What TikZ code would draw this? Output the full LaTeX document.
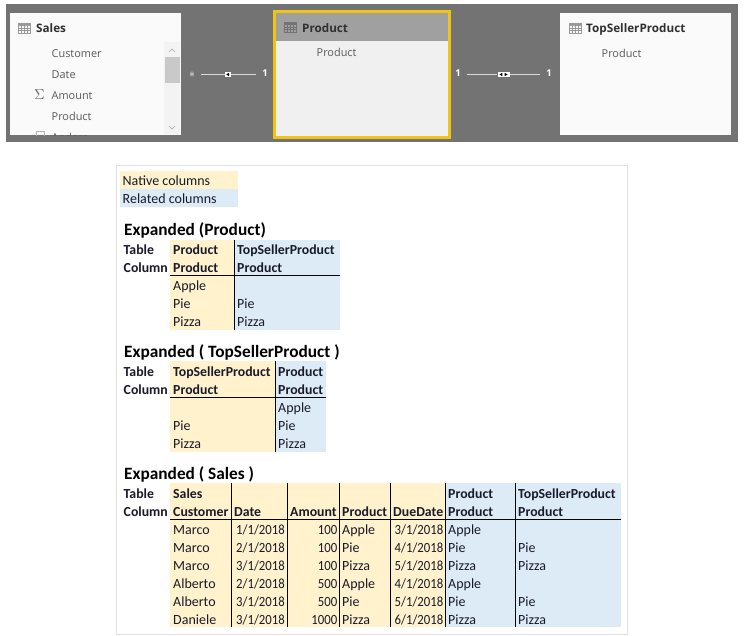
\documentclass[tikz,border=0pt]{standalone}
\usepackage{fontspec}
\setmainfont{Carlito}
\newfontfamily\uifont{Open Sans}
\newfontfamily\numfont[FakeStretch=0.91]{Carlito}
\definecolor{nativec}{HTML}{FFF2CC}
\definecolor{relc}{HTML}{DDEBF7}
\definecolor{band}{HTML}{737373}
\definecolor{selyellow}{HTML}{F0C414}
\definecolor{cardc}{HTML}{FAFAFA}
\definecolor{selcard}{HTML}{F0F0F0}
\definecolor{hdr}{HTML}{A0A0A0}
\definecolor{framec}{HTML}{E2E2E2}
\definecolor{fieldc}{HTML}{5A5A5A}
\definecolor{titlec}{HTML}{303030}
\definecolor{ink}{HTML}{1A1A2A}
\tikzset{
 cell/.style={inner sep=0pt,anchor=base west,font=\fontsize{14}{14}\selectfont,text=ink},
 numcell/.style={inner sep=0pt,anchor=base east,font=\numfont\fontsize{14}{14}\selectfont,text=ink},
 hcell/.style={cell,font=\fontsize{13.8}{14}\selectfont\bfseries},
 tabtitle/.style={inner sep=0pt,anchor=base west,font=\fontsize{17.3}{17.3}\selectfont\bfseries,text=black},
 field/.style={inner sep=0pt,anchor=base west,font=\uifont\fontsize{10.9}{12}\selectfont,text=fieldc},
 cardtitle/.style={inner sep=0pt,anchor=base west,font=\uifont\fontsize{11.7}{12}\selectfont\bfseries,text=titlec},
 card/.style={fill=cardc,draw=none},
 rule/.style={draw=black,line width=0.9pt},
 relline/.style={draw=white!85!black,line width=0.8pt},
 cardnum/.style={inner sep=0pt,font=\uifont\fontsize{9.5}{10}\selectfont\bfseries,text=white},
}
% table icon at top-left (x,y)
\newcommand{\tblicon}[3]{%
 \begin{scope}[shift={(#1,#2)}]
  \fill[#3] (0,0) rectangle (12,3);
  \draw[#3,line width=0.5pt] (0,0) rectangle (12,10);
  \foreach \gx in {3,6,9} \draw[#3,line width=0.35pt] (\gx,3) -- (\gx,10);
  \foreach \gy in {5.3,7.6} \draw[#3,line width=0.35pt] (0,\gy) -- (12,\gy);
 \end{scope}}
\begin{document}
\begin{tikzpicture}[x=1pt,y=-1pt]
\useasboundingbox (0,0) rectangle (744,635);
\fill[white] (0,0) rectangle (744,635);
% band
\fill[band] (6,4) rectangle (738,142);
% Sales card
\path[card] (10,13) rectangle (181,135);
\tblicon{18}{23}{gray!80}
\node[cardtitle] (salesT) at (36,32.5) {Sales};
\node[field] (f1) at (51.5,57) {Customer};
\node[field] (f2) at (51.5,78) {Date};
\node[field] (f3) at (51.5,99) {Amount};
\node[field] (f4) at (51.5,120) {Product};
\node[inner sep=0pt,anchor=base,font=\fontsize{14}{14}\selectfont,text=fieldc] (sig) at (39.5,99.5) {$\Sigma$};
\begin{scope}
 \clip (10,13) rectangle (181,135);
 \node[field] (f5) at (51.5,141) {Andere};
 \draw[gray!60,line width=0.5pt] (36,131) rectangle (44,142);
\end{scope}
% scrollbar
\fill[cardc!97!black] (164,42) rectangle (180,134);
\fill[gray!42] (164.5,57) rectangle (180,83);
\draw[gray!70,line width=0.5pt] (169,52) -- (172,49) -- (175,52);
\draw[gray!70,line width=0.5pt] (169,126) -- (172,129) -- (175,126);
% Product card
\path[fill=selcard,draw=selyellow,line width=3pt] (274.5,11.5) rectangle (449,137.5);
\fill[hdr] (276,13) rectangle (447.5,40.5);
\tblicon{284}{22}{gray!90!black}
\node[cardtitle] (prodT) at (302,32) {Product};
\node[field] (pf) at (316.5,56.5) {Product};
% TopSeller card
\path[card] (560,13) rectangle (731,135);
\tblicon{569}{23}{gray!80}
\node[cardtitle] (topT) at (586,32.5) {TopSellerProduct};
\node[field] (tf) at (601.5,57) {Product};
% relationship 1
\node[inner sep=0pt,font=\bfseries\fontsize{13}{13}\selectfont,text=white] (star) at (192,74.5) {$\ast$};
\coordinate (r1a) at (201,74.5);
\coordinate (r1b) at (256,74.5);
\node[fill=white,inner sep=0pt,minimum width=6pt,minimum height=5pt] (r1m) at (228,74.5) {};
\fill[black] (226.3,74.5) -- (229,72.8) -- (229,76.2) -- cycle;
\node[cardnum] (one1) at (265,73) {1};
\draw[relline] (r1a) -- (r1m) -- (r1b);
% relationship 2
\node[cardnum] (one2) at (458,73) {1};
\coordinate (r2a) at (467,74.5);
\coordinate (r2b) at (540,74.5);
\node[fill=white,inner sep=0pt,minimum width=12pt,minimum height=5pt] (r2m) at (503.5,74.5) {};
\fill[black] (499.5,74.5) -- (502.3,72.8) -- (502.3,76.2) -- cycle;
\fill[black] (507.5,74.5) -- (504.7,72.8) -- (504.7,76.2) -- cycle;
\node[cardnum] (one3) at (549,73) {1};
\draw[relline] (r2a) -- (r2m) -- (r2b);
% frame
\draw[framec,line width=1pt] (116.5,165) rectangle (627,634);
% legend
\fill[nativec] (120,171) rectangle (238,189);
\fill[relc] (120,189) rectangle (238,207);
\node[cell] (leg1) at (122.5,185) {Native columns};
\node[cell] (leg2) at (122.5,203) {Related columns};
% ---- Table 1
\node[tabtitle] (t1) at (124,235) {Expanded (Product)};
\fill[nativec] (170,239.5) rectangle (234.3,329.5);
\fill[relc] (234.3,239.5) rectangle (340,329.5);
\draw[rule] (234.3,239.5) -- (234.3,329.5);
\draw[rule] (170,275.7) -- (340,275.7);
\node[hcell] (a1) at (123.5,254) {Table};
\node[hcell] (a2) at (123.5,272) {Column};
\node[hcell] (a3) at (173,254) {Product};
\node[hcell] (a4) at (173,272) {Product};
\node[hcell] (a5) at (237,254) {TopSellerProduct};
\node[hcell] (a6) at (237,272) {Product};
\node[cell] (a7) at (173,290) {Apple};
\node[cell] (a8) at (173,308) {Pie};
\node[cell] (a9) at (173,326) {Pizza};
\node[cell] (a10) at (237,308) {Pie};
\node[cell] (a11) at (237,326) {Pizza};
% ---- Table 2
\node[tabtitle] (t2) at (124,357) {Expanded ( TopSellerProduct )};
\fill[nativec] (170,361) rectangle (275.3,451.7);
\fill[relc] (275.3,361) rectangle (326,451.7);
\draw[rule] (275.3,361) -- (275.3,451.7);
\draw[rule] (170,397.3) -- (326,397.3);
\node[hcell] (b1) at (123.5,376) {Table};
\node[hcell] (b2) at (123.5,394) {Column};
\node[hcell] (b3) at (173,376) {TopSellerProduct};
\node[hcell] (b4) at (173,394) {Product};
\node[hcell] (b5) at (278,376) {Product};
\node[hcell] (b6) at (278,394) {Product};
\node[cell] (b7) at (278,412) {Apple};
\node[cell] (b8) at (173,430) {Pie};
\node[cell] (b9) at (278,430) {Pie};
\node[cell] (b10) at (173,448) {Pizza};
\node[cell] (b11) at (278,448) {Pizza};
% ---- Table 3
\node[tabtitle] (t3) at (124,479) {Expanded ( Sales )};
\fill[nativec] (170,483) rectangle (445.7,627);
\fill[relc] (445.7,483) rectangle (620.7,627);
\foreach \vx in {231.3,287.7,339.7,390,445.7,515.3} \draw[rule] (\vx,483) -- (\vx,627);
\draw[rule] (170,519.7) -- (620.7,519.7);
\node[hcell] (c1) at (123.5,498) {Table};
\node[hcell] (c2) at (123.5,516) {Column};
\node[hcell] (c3) at (173,498) {Sales};
\node[hcell] (c4) at (173,516) {Customer};
\node[hcell] (c5) at (234,516) {Date};
\node[hcell] (c6) at (290,516) {Amount};
\node[hcell] (c7) at (342,516) {Product};
\node[hcell] (c8) at (393,516) {DueDate};
\node[hcell] (c9) at (448,498) {Product};
\node[hcell] (c10) at (448,516) {Product};
\node[hcell] (c11) at (518,498) {TopSellerProduct};
\node[hcell] (c12) at (518,516) {Product};
\foreach \n/\bl/\cu/\da/\am/\pr/\du/\rp/\rt in {
 1/534/Marco/1\slash 1\slash 2018/100/Apple/3\slash 1\slash 2018/Apple/{},
 2/552/Marco/2\slash 1\slash 2018/100/Pie/4\slash 1\slash 2018/Pie/Pie,
 3/570/Marco/3\slash 1\slash 2018/100/Pizza/5\slash 1\slash 2018/Pizza/Pizza,
 4/588/Alberto/2\slash 1\slash 2018/500/Apple/4\slash 1\slash 2018/Apple/{},
 5/606/Alberto/3\slash 1\slash 2018/500/Pie/5\slash 1\slash 2018/Pie/Pie,
 6/624/Daniele/3\slash 1\slash 2018/1000/Pizza/6\slash 1\slash 2018/Pizza/Pizza}{
 \node[cell] (cu\n) at (173,\bl) {\cu};
 \node[numcell] (am\n) at (337.5,\bl) {\am};
 \node[cell] (pr\n) at (342,\bl) {\pr};
 \node[cell] (rp\n) at (448,\bl) {\rp};
 \node[cell] (rt\n) at (518,\bl) {\rt};
}
\node[numcell] (d1) at (285,534) {1/1/2018};
\node[numcell] (d2) at (285,552) {2/1/2018};
\node[numcell] (d3) at (285,570) {3/1/2018};
\node[numcell] (d4) at (285,588) {2/1/2018};
\node[numcell] (d5) at (285,606) {3/1/2018};
\node[numcell] (d6) at (285,624) {3/1/2018};
\node[numcell] (e1) at (443.5,534) {3/1/2018};
\node[numcell] (e2) at (443.5,552) {4/1/2018};
\node[numcell] (e3) at (443.5,570) {5/1/2018};
\node[numcell] (e4) at (443.5,588) {4/1/2018};
\node[numcell] (e5) at (443.5,606) {5/1/2018};
\node[numcell] (e6) at (443.5,624) {6/1/2018};
\end{tikzpicture}
\end{document}
